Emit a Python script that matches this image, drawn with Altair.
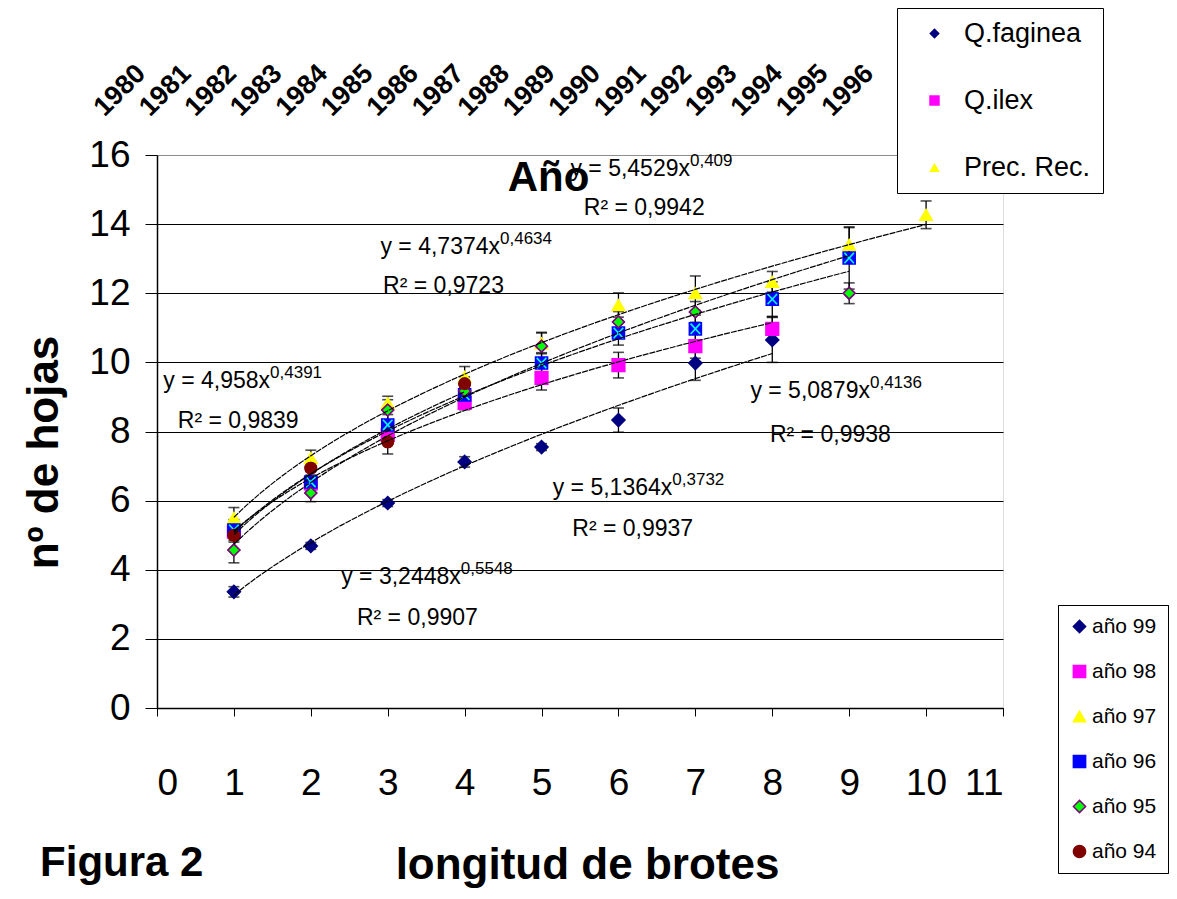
import altair as alt
import pandas as pd

FONT = "Liberation Sans"

# ---- data ----
series = ["año 99", "año 98", "año 97", "año 96", "año 95", "año 94"]
especies = ["Q.faginea", "Q.ilex", "Prec. Rec."]

x99 = [1, 2, 3, 4, 5, 6, 7, 8]
y99 = [3.36, 4.69, 5.93, 7.12, 7.55, 8.33, 9.98, 10.65]
e99 = [0.15, 0.1, 0.1, 0.15, 0.1, 0.35, 0.5, 0.65]

x98 = [1, 2, 3, 4, 5, 6, 7, 8]
y98 = [5.1, 6.5, 7.9, 8.83, 9.55, 9.92, 10.47, 10.97]
e98 = [0.2, 0.2, 0.25, 0.2, 0.35, 0.37, 0.35, 0.35]

x97 = [1, 2, 3, 4, 5, 6, 7, 8, 9, 10]
y97 = [5.5, 7.23, 8.82, 9.58, 10.55, 11.66, 12.0, 12.33, 13.4, 14.27]
e97 = [0.3, 0.23, 0.2, 0.3, 0.3, 0.35, 0.5, 0.3, 0.5, 0.4]

x96 = [1, 2, 3, 4, 5, 6, 7, 8, 9]
y96 = [5.15, 6.54, 8.19, 9.06, 9.98, 10.85, 10.97, 11.83, 13.02]
e96 = [0.3, 0.3, 0.3, 0.3, 0.3, 0.35, 0.4, 0.5, 0.9]

x95 = [1, 2, 3, 4, 5, 6, 7, 9]
y95 = [4.57, 6.22, 8.62, 9.17, 10.47, 11.17, 11.46, 12.0]
e95 = [0.37, 0.25, 0.3, 0.2, 0.4, 0.3, 0.3, 0.3]

x94 = [1, 2, 3, 4]
y94 = [5.0, 6.94, 7.7, 9.38]
e94 = [0.2, 0.2, 0.35, 0.2]

years = list(range(1980, 1997))

eq_main = ["y = 5,4529x", "y = 4,7374x", "y = 4,958x", "y = 5,0879x", "y = 5,1364x", "y = 3,2448x"]
eq_exp = ["0,409", "0,4634", "0,4391", "0,4136", "0,3732", "0,5548"]
eq_r2 = ["R² = 0,9942", "R² = 0,9723", "R² = 0,9839", "R² = 0,9938", "R² = 0,9937", "R² = 0,9907"]
# annotation anchors (data units)
eq_x = [6.93, 4.46, 1.47, 9.27, 6.70, 3.95]
eq_y = [15.39, 13.14, 9.26, 8.97, 6.16, 3.59]
r2_x = [5.55, 2.94, 0.27, 7.97, 5.40, 2.60]
r2_y = [14.26, 12.01, 8.10, 7.70, 4.98, 2.40]

fig_label = ["Figura 2"]
fig_x = [-1.52]
fig_y = [-4.86]

# ---- build tables ----
xs = [x99, x98, x97, x96, x95, x94]
ys = [y99, y98, y97, y96, y95, y94]
es = [e99, e98, e97, e96, e95, e94]
esp_map = {"año 99": "Q.faginea", "año 98": "Q.ilex", "año 97": "Prec. Rec."}
rows = []
for s, xx, yy, ee in zip(series, xs, ys, es):
    for a, b, c in zip(xx, yy, ee):
        rows.append({"serie": s, "x": a, "y": b, "lo": b - c, "hi": b + c,
                     "especie": esp_map.get(s, "")})
df = pd.DataFrame(rows)
df_esp = df[df["especie"] != ""]
df96 = df[df["serie"] == "año 96"]

ann = pd.DataFrame({"x": eq_x, "y": eq_y, "main": eq_main, "exp": eq_exp})
ann_r2 = pd.DataFrame({"x": r2_x, "y": r2_y, "r2": eq_r2})
fig_df = pd.DataFrame({"x": fig_x, "y": fig_y, "t": fig_label})
yr_df = pd.DataFrame({"anio": years})

# ---- encodings ----
x_axis = alt.Axis(values=list(range(0, 12)), format="d", labelFont=FONT, labelFontSize=37,
                  labelColor="black", labelPadding=49, tickSize=8, tickColor="black",
                  domainColor="black", domainWidth=1.5, grid=False,
                  titleFont=FONT, titleFontSize=44, titleFontWeight="bold", titleColor="black",
                  titleX=430, titleY=170, titleAlign="center", titleBaseline="alphabetic")
y_axis = alt.Axis(values=list(range(0, 17, 2)), format="d", labelFont=FONT, labelFontSize=37,
                  labelColor="black", labelPadding=15, tickSize=12, tickColor="black",
                  domainColor="black", domainWidth=1.5, grid=True,
                  gridColor={"condition": {"test": "datum.value >= 16", "value": "#8c8c8c"},
                             "value": "black"},
                  gridWidth=1.2,
                  titleFont=FONT, titleFontSize=44, titleFontWeight="bold", titleColor="black",
                  titleAngle=270, titleX=-100, titleY=297, titleAlign="center",
                  titleBaseline="alphabetic")
xs_scale = alt.Scale(domain=[0, 11], nice=False, zero=False)
ys_scale = alt.Scale(domain=[0, 16], nice=False, zero=False)


def X(f):
    return alt.X(f"{f}:Q", scale=xs_scale, axis=x_axis, title="longitud de brotes")


def Y(f):
    return alt.Y(f"{f}:Q", scale=ys_scale, axis=y_axis, title="nº de hojas")


x_path = "M-0.55,-0.6L0.55,0.6 M-0.55,0.6L0.55,-0.6"
fill_range = ["#000080", "#FF00FF", "#FFFF00", "#0000FF", "#00FF00", "#800000"]
stroke_range = ["#000080", "#FF00FF", "#FFFF00", "#0000FF", "#800080", "#800000"]
shape_range = ["diamond", "square", "triangle-up", "square", "diamond", "circle"]
size_range = [170, 130, 210, 300, 170, 150]

leg_serie = alt.Legend(title=None, orient="none", legendX=901, legendY=450,
                       strokeColor="black", fillColor="white", padding=11,
                       labelFont=FONT, labelFontSize=21, labelColor="black",
                       rowPadding=23, symbolSize=150, symbolStrokeWidth=1.5, labelOffset=2)
leg_esp = alt.Legend(title=None, orient="none", legendX=740, legendY=-147,
                     strokeColor="black", fillColor="white", padding=12,
                     labelFont=FONT, labelFontSize=27, labelColor="black",
                     rowPadding=39, symbolSize=110, symbolStrokeWidth=0,
                     symbolOffset=12, labelOffset=16)

base = alt.Chart(df)

err_rule = base.mark_rule(color="black", strokeWidth=1.3).encode(x=X("x"), y=Y("lo"), y2="hi:Q")
err_caps = base.transform_fold(["lo", "hi"], as_=["k", "v"]).mark_tick(
    orient="horizontal", size=11, thickness=1.6, color="black").encode(x=X("x"), y=Y("v"))

size_enc = alt.Size("serie:N", scale=alt.Scale(domain=series, range=size_range), legend=None)

pts_esp = alt.Chart(df_esp).mark_point(filled=True, opacity=1).encode(
    x=X("x"), y=Y("y"),
    fill=alt.Fill("especie:N", scale=alt.Scale(domain=especies, range=fill_range[:3]), legend=leg_esp),
    shape=alt.Shape("especie:N", scale=alt.Scale(domain=especies, range=shape_range[:3]), legend=leg_esp),
    size=size_enc,
)

pts = base.mark_point(filled=True, opacity=1, strokeWidth=1.5).encode(
    x=X("x"), y=Y("y"),
    fill=alt.Fill("serie:N", scale=alt.Scale(domain=series, range=fill_range), legend=leg_serie),
    stroke=alt.Stroke("serie:N", scale=alt.Scale(domain=series, range=stroke_range), legend=leg_serie),
    shape=alt.Shape("serie:N", scale=alt.Scale(domain=series, range=shape_range), legend=leg_serie),
    size=size_enc,
)

# cyan cross drawn inside the blue squares of "año 96"
cross96 = alt.Chart(df96).mark_point(shape=x_path, filled=False, size=300, color="#00FFFF",
                                     strokeWidth=1.6, opacity=1).encode(x=X("x"), y=Y("y"))

# pts 95/94 on top of the 96 crosses
pts_top = alt.Chart(df[df["serie"].isin(["año 95", "año 94"])]).mark_point(
    filled=True, opacity=1, strokeWidth=1.5).encode(
    x=X("x"), y=Y("y"),
    fill=alt.Fill("serie:N", scale=alt.Scale(domain=series, range=fill_range), legend=leg_serie),
    stroke=alt.Stroke("serie:N", scale=alt.Scale(domain=series, range=stroke_range), legend=leg_serie),
    shape=alt.Shape("serie:N", scale=alt.Scale(domain=series, range=shape_range), legend=leg_serie),
    size=size_enc,
)

lines = base.transform_regression("x", "y", groupby=["serie"], method="pow").mark_line(
    color="black", strokeWidth=1.2, strokeDash=[6, 1]).encode(
    x=X("x"), y=Y("y"), detail="serie:N")

t_main = alt.Chart(ann).mark_text(align="right", baseline="alphabetic", font=FONT,
                                  fontSize=23, color="black").encode(x=X("x"), y=Y("y"), text="main:N")
t_exp = alt.Chart(ann).mark_text(align="left", baseline="alphabetic", font=FONT, dy=-10,
                                 fontSize=17, color="black").encode(x=X("x"), y=Y("y"), text="exp:N")
t_r2 = alt.Chart(ann_r2).mark_text(align="left", baseline="alphabetic", font=FONT,
                                   fontSize=23, color="black").encode(x=X("x"), y=Y("y"), text="r2:N")
t_fig = alt.Chart(fig_df).mark_text(align="left", baseline="alphabetic", font=FONT,
                                    fontSize=42, fontWeight="bold", color="black").encode(
    x=X("x"), y=Y("y"), text="t:N")

inner = alt.layer(err_rule, err_caps, pts_esp, pts, cross96, pts_top, lines,
                  t_main, t_exp, t_r2, t_fig).resolve_scale(
    fill="independent", shape="independent", stroke="independent")

yr_axis = alt.Axis(orient="top", values=years, format="d", labelAngle=315, labelAlign="left",
                   labelBaseline="alphabetic", labelFlush=False, labelOverlap=False,
                   labelOffset=-53, labelPadding=38, ticks=False, tickSize=0, domain=False,
                   grid=False, labelFont=FONT, labelFontSize=27, labelFontWeight="bold",
                   labelColor="black", title="Año", titleX=391, titleY=35, titleAlign="center",
                   titleBaseline="alphabetic", titleFont=FONT, titleFontSize=42,
                   titleFontWeight="bold", titleColor="black", zindex=1)
yr_layer = alt.Chart(yr_df).mark_point(opacity=0).encode(
    x=alt.X("anio:Q", scale=alt.Scale(domain=[1980, 1998.593], nice=False, zero=False),
            axis=yr_axis, title="Año"))

chart = alt.layer(inner, yr_layer).resolve_scale(x="independent").properties(
    width=846, height=553,
    autosize=alt.AutoSizeParams(type="none"),
    padding={"left": 149, "top": 147, "right": 166, "bottom": 182},
).configure_view(stroke="#8c8c8c", strokeWidth=1.2).configure(background="white")

chart.save("out.html", embed_options={"renderer": "svg", "actions": False})
